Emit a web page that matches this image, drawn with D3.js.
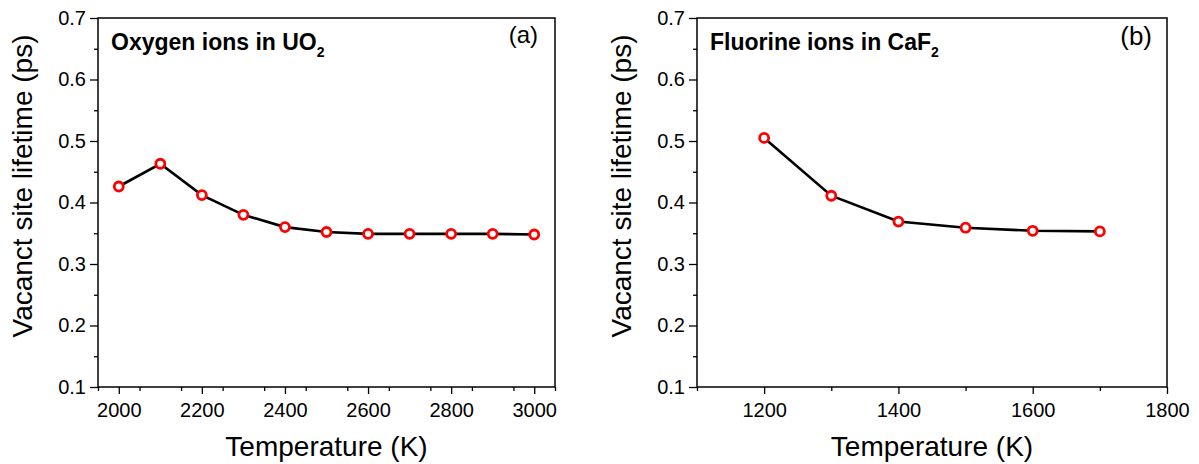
<!DOCTYPE html>
<html><head><meta charset="utf-8">
<script src="https://cdn.jsdelivr.net/npm/d3@7/dist/d3.min.js"></script>
<style>body{margin:0;background:#fff}svg{display:block}text{font-family:"Liberation Sans",Arial,sans-serif}</style>
</head><body><svg id="c" width="1199" height="464"></svg>
<script>
const tempsA = [2000,2100,2200,2300,2400,2500,2600,2700,2800,2900,3000];
const lifeA  = [0.426,0.463,0.412,0.380,0.360,0.352,0.349,0.349,0.349,0.349,0.348];
const tempsB = [1200,1300,1400,1500,1600,1700];
const lifeB  = [0.505,0.411,0.369,0.359,0.354,0.353];
const yTicks = [0.1,0.2,0.3,0.4,0.5,0.6,0.7];
const xTicksA = [2000,2200,2400,2600,2800,3000];
const xTicksB = [1200,1400,1600,1800];

const svg = d3.select("#c");
const plotTop = 18, plotBottom = 387;

function panel(opt){
  const x = d3.scaleLinear().domain(opt.xdom).range([opt.left, opt.right]);
  const y = d3.scaleLinear().domain([0.1,0.7]).range([plotBottom, plotTop]);
  const g = svg.append("g");
  const minorX = d3.range(opt.xdom[0], opt.xdom[1]+1, 100).filter(v=>!opt.xticks.includes(v));
  g.append("g").attr("transform",`translate(0,${plotBottom})`)
    .call(d3.axisBottom(x).tickValues(minorX).tickSize(4).tickFormat(""))
    .call(a=>a.select(".domain").remove());
  g.append("g").attr("transform",`translate(${opt.left},0)`)
    .call(d3.axisLeft(y).tickValues(d3.range(0.15,0.7,0.1)).tickSize(4).tickFormat(""))
    .call(a=>a.select(".domain").remove());
  const xa = g.append("g").attr("transform",`translate(0,${plotBottom})`)
    .call(d3.axisBottom(x).tickValues(opt.xticks).tickSize(7).tickPadding(9).tickFormat(d3.format("d")));
  xa.select(".domain").remove();
  xa.selectAll("text").attr("font-size",20).attr("fill","#000").attr("font-family","Liberation Sans, Arial");
  const ya = g.append("g").attr("transform",`translate(${opt.left},0)`)
    .call(d3.axisLeft(y).tickValues(yTicks).tickSize(8).tickPadding(4).tickFormat(d3.format(".1f")));
  ya.select(".domain").remove();
  ya.selectAll("text").attr("font-size",20).attr("fill","#000").attr("font-family","Liberation Sans, Arial");
  g.selectAll(".tick line").attr("stroke","#000").attr("stroke-width",1.3);
  g.append("rect").attr("x",opt.left).attr("y",plotTop).attr("width",opt.right-opt.left).attr("height",plotBottom-plotTop)
    .attr("fill","none").attr("stroke","#000").attr("stroke-width",1.5);
  const pts = opt.xs.map((t,i)=>[t,opt.ys[i]]);
  g.append("path").datum(pts).attr("fill","none").attr("stroke","#000").attr("stroke-width",2.6)
    .attr("d", d3.line().x(d=>x(d[0])).y(d=>y(d[1])));
  g.selectAll("circle.m").data(pts).join("circle").attr("class","m")
    .attr("cx",d=>x(d[0])).attr("cy",d=>y(d[1])).attr("r",4.5)
    .attr("fill","#fff").attr("stroke","#ff0000").attr("stroke-width",2.8);
  g.append("text").attr("x",(opt.left+opt.right)/2).attr("y",456).attr("text-anchor","middle")
    .attr("font-size",28).text("Temperature (K)");
  g.append("text").attr("transform",`translate(${opt.left-66},186) rotate(-90)`)
    .attr("text-anchor","middle").attr("font-size",28).text("Vacanct site lifetime (ps)");
  const t = g.append("text").attr("x",opt.left+13).attr("y",50).attr("font-size",23).attr("font-weight","bold");
  t.append("tspan").text(opt.label);
  t.append("tspan").attr("font-size",14).attr("dy",7).text("2");
  g.append("text").attr("x",opt.right-opt.tagInset).attr("y",opt.tagY).attr("text-anchor","end")
    .attr("font-size",opt.tagSize).text(opt.tag);
}
panel({left:98,right:555,xdom:[1950,3050],xticks:xTicksA,xs:tempsA,ys:lifeA,label:"Oxygen ions in UO",tag:"(a)",tagInset:17,tagY:43,tagSize:24});
panel({left:697,right:1167,xdom:[1100,1800],xticks:xTicksB,xs:tempsB,ys:lifeB,label:"Fluorine ions in CaF",tag:"(b)",tagInset:15,tagY:45,tagSize:26});
</script></body></html>
